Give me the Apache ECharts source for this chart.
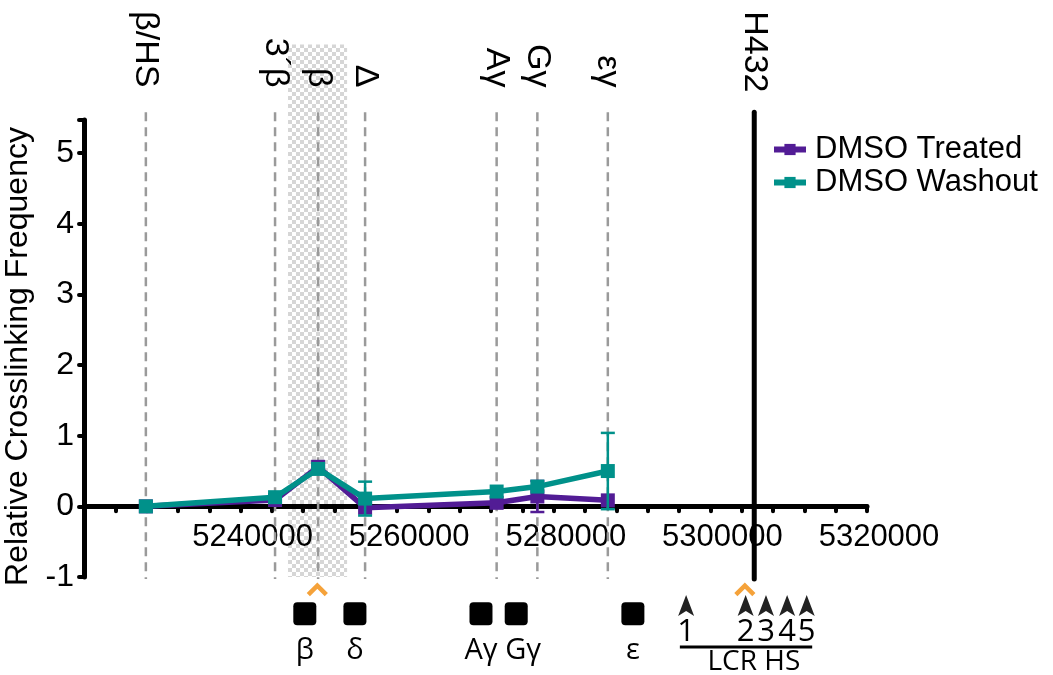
<!DOCTYPE html>
<html>
<head>
<meta charset="utf-8">
<script src="https://cdn.jsdelivr.net/npm/echarts@6/dist/echarts.min.js"></script>
<style>html,body{margin:0;padding:0;background:#fff}#c{width:1053px;height:675px}</style>
</head>
<body>
<div id="c"></div>
<script>
// ---- data ----
const lociX = [5227900, 5244400, 5249900, 5255900, 5272700, 5277900, 5286900];
const lociLabels = ['β/HS', '3´β', 'β', 'Δ', 'Aγ', 'Gγ', 'εγ'];
const treated = [0, 0.09, 0.56, -0.02, 0.05, 0.14, 0.085];
const treatedErr = [0, 0, 0, 0, 0, 0.22, 0];
const washout = [0, 0.13, 0.53, 0.11, 0.21, 0.28, 0.50];
const washoutErr = [0, 0, 0, 0.24, 0, 0, 0.54];
const anchorX = 5305600;
const anchorLabel = 'H432';
const bandX = [5246050, 5253600];
const caretX = [5249800, 5304400];
const geneNames = ['β', 'δ', 'Aγ', 'Gγ', 'ε'];
const geneX = [5248200, 5254600, 5270700, 5275200, 5290100];
const hsNames = ['1', '2', '3', '4', '5'];
const hsX = [5296900, 5304500, 5307100, 5309800, 5312300];
const lcrSpan = [5296100, 5313000];
const lcrLabel = 'LCR HS';
const xMin = 5220000, xMax = 5320000, xStep = 20000;
const yTicks = [-1, 0, 1, 2, 3, 4, 5];
const seriesNames = ['DMSO Treated', 'DMSO Washout'];

// ---- styling ----
const PURPLE = '#521c95';
const TEAL = '#00918a';
const ORANGE = '#f5a23a';
const ARIAL = '"Liberation Sans", Arial, sans-serif';
const MYRIAD = '"Open Sans", "Noto Sans", sans-serif';
const geneLabelDx = [0, 0, 0, 7, 0];

const pat = document.createElement('canvas');
pat.width = 8; pat.height = 8;
const pc = pat.getContext('2d');
pc.fillStyle = '#ffffff'; pc.fillRect(0, 0, 8, 8);
pc.fillStyle = '#d6d6d6'; pc.fillRect(0, 0, 4, 4); pc.fillRect(4, 4, 4, 4);

const chart = echarts.init(document.getElementById('c'), null, {renderer: 'canvas'});

function errSeries(name, vals, errs, color, z) {
  return {
    type: 'custom', name: name + ' err', z: z, silent: true,
    data: lociX.map((x, i) => [x, vals[i], errs[i]]),
    renderItem: function (params, api) {
      const x = api.value(0), y = api.value(1), e = api.value(2);
      if (!e) return null;
      const t = api.coord([x, y + e]), b = api.coord([x, y - e]);
      const st = {stroke: color, lineWidth: 2.5};
      return {type: 'group', children: [
        {type: 'line', shape: {x1: t[0], y1: t[1], x2: b[0], y2: b[1]}, style: st},
        {type: 'line', shape: {x1: t[0] - 7, y1: t[1], x2: t[0] + 7, y2: t[1]}, style: st},
        {type: 'line', shape: {x1: b[0] - 7, y1: b[1], x2: b[0] + 7, y2: b[1]}, style: st}
      ]};
    }
  };
}

const option = {
  animation: false,
  backgroundColor: '#fff',
  grid: {left: 84, right: 186, top: 120, bottom: 98, containLabel: false, outerBoundsMode: 'none'},
  legend: {
    orient: 'vertical', left: 766, top: 128, itemWidth: 32, itemHeight: 14, itemGap: 0,
    data: seriesNames,
    lineStyle: {width: 6},
    textStyle: {fontSize: 31, fontFamily: ARIAL, color: '#000', lineHeight: 33, padding: [0, 0, 0, 4]}
  },
  xAxis: {
    type: 'value', min: xMin, max: xMax, interval: xStep,
    axisLine: {onZero: true, lineStyle: {color: '#000', width: 5}},
    axisTick: {show: true, length: 5, lineStyle: {color: '#000', width: 4, cap: 'round'}},
    minorTick: {show: true, splitNumber: 5, length: 5, lineStyle: {color: '#000', width: 4, cap: 'round'}},
    splitLine: {show: false},
    axisLabel: {
      fontSize: 31, fontFamily: ARIAL, color: '#000', margin: -55, padding: [0, 0, 0, 24],
      formatter: v => (v === xMin ? '' : String(v))
    }
  },
  yAxis: {
    type: 'value', min: yTicks[0], max: 5.47, interval: 1,
    name: 'Relative Crosslinking Frequency', nameLocation: 'middle', nameGap: 46,
    nameTextStyle: {fontSize: 32, fontFamily: ARIAL, color: '#000', padding: [0, 16, 0, 0]},
    axisLine: {onZero: false, lineStyle: {color: '#000', width: 5}},
    axisTick: {show: true, length: 5, lineStyle: {color: '#000', width: 4, cap: 'round'}},
    splitLine: {show: false},
    axisLabel: {
      fontSize: 32, fontFamily: ARIAL, color: '#000', margin: 10,
      formatter: v => (yTicks.indexOf(v) >= 0 ? String(v) : '')
    }
  },
  series: [
    {
      type: 'custom', name: 'band', z: 0, silent: true,
      data: [[bandX[0], bandX[1]]],
      renderItem: function (params, api) {
        const a = api.coord([api.value(0), 6.54]), b = api.coord([api.value(1), -1.0]);
        return {type: 'rect', shape: {x: a[0], y: a[1], width: b[0] - a[0], height: b[1] - a[1]},
                style: {fill: {image: pat, repeat: 'repeat'}}};
      }
    },
    {
      type: 'custom', name: 'loci', z: 1, silent: true,
      data: lociX.map((x, i) => [x, i]),
      renderItem: function (params, api) {
        const x = api.value(0), i = api.value(1);
        const top = api.coord([x, 5.58]), bot = api.coord([x, -1.03]), lab = api.coord([x, 5.93]);
        return {type: 'group', children: [
          {type: 'line', shape: {x1: top[0], y1: top[1], x2: bot[0], y2: bot[1]},
           style: {stroke: '#9a9a9a', lineWidth: 2.5, lineDash: [9, 6]}},
          {type: 'text', x: lab[0], y: lab[1], rotation: -Math.PI / 2,
           style: {text: lociLabels[i], align: 'right', verticalAlign: 'middle',
                   fontSize: 34, fontFamily: ARIAL, fill: '#000'}}
        ]};
      }
    },
    {
      type: 'custom', name: 'anchor', z: 2, silent: true,
      data: [[anchorX]],
      renderItem: function (params, api) {
        const x = api.value(0);
        const top = api.coord([x, 5.58]), bot = api.coord([x, -1.03]), lab = api.coord([x, 5.86]);
        return {type: 'group', children: [
          {type: 'line', shape: {x1: top[0], y1: top[1], x2: bot[0], y2: bot[1]},
           style: {stroke: '#000', lineWidth: 5, lineCap: 'round'}},
          {type: 'text', x: lab[0], y: lab[1], rotation: -Math.PI / 2,
           style: {text: anchorLabel, align: 'right', verticalAlign: 'middle',
                   fontSize: 34, fontFamily: ARIAL, fill: '#000'}}
        ]};
      }
    },
    {
      type: 'custom', name: 'annot', z: 2, silent: true,
      data: [[xMin]],
      renderItem: function (params, api) {
        const ch = [];
        caretX.forEach(x => {
          const p = api.coord([x, -1.18]);
          ch.push({type: 'polyline', shape: {points: [[p[0] - 9, p[1] + 5], [p[0], p[1] - 4], [p[0] + 9, p[1] + 5]]},
                   style: {stroke: ORANGE, lineWidth: 4.5, fill: null}});
        });
        geneX.forEach((x, i) => {
          const p = api.coord([x, -1.52]);
          ch.push({type: 'rect', shape: {x: p[0] - 11.5, y: p[1] - 11.5, width: 23, height: 23, r: 4},
                   style: {fill: '#000'}});
          const q = api.coord([x, -2.04]);
          ch.push({type: 'text', x: q[0] + geneLabelDx[i], y: q[1],
                   style: {text: geneNames[i], align: 'center', verticalAlign: 'middle',
                           fontSize: 29, fontFamily: MYRIAD, fill: '#000'}});
        });
        hsX.forEach((x, i) => {
          const p = api.coord([x, -1.41]);
          ch.push({type: 'path', shape: {pathData: 'M0,-11 L8,10 L0,5 L-8,10 Z'}, x: p[0], y: p[1],
                   style: {fill: '#222'}});
          const q = api.coord([x, -1.78]);
          ch.push({type: 'text', x: q[0], y: q[1],
                   style: {text: hsNames[i], align: 'center', verticalAlign: 'middle',
                           fontSize: 31, fontFamily: MYRIAD, fill: '#000'}});
        });
        const a = api.coord([lcrSpan[0], -1.99]), b = api.coord([lcrSpan[1], -1.99]);
        ch.push({type: 'line', shape: {x1: a[0], y1: a[1], x2: b[0], y2: b[1]}, style: {stroke: '#000', lineWidth: 3}});
        const m = api.coord([(lcrSpan[0] + lcrSpan[1]) / 2 + 1000, -2.2]);
        ch.push({type: 'text', x: m[0], y: m[1],
                 style: {text: lcrLabel, align: 'center', verticalAlign: 'middle',
                         fontSize: 28, fontFamily: MYRIAD, fill: '#000'}});
        return {type: 'group', children: ch};
      }
    },
    errSeries(seriesNames[0], treated, treatedErr, PURPLE, 3),
    {
      type: 'line', name: seriesNames[0], z: 4,
      data: lociX.map((x, i) => [x, treated[i]]),
      symbol: 'rect', symbolSize: 14, showSymbol: true,
      itemStyle: {color: PURPLE}, lineStyle: {color: PURPLE, width: 5.5}
    },
    errSeries(seriesNames[1], washout, washoutErr, TEAL, 5),
    {
      type: 'line', name: seriesNames[1], z: 6,
      data: lociX.map((x, i) => [x, washout[i]]),
      symbol: 'rect', symbolSize: 14, showSymbol: true,
      itemStyle: {color: TEAL}, lineStyle: {color: TEAL, width: 5.5}
    }
  ]
};
chart.setOption(option);
</script>
</body>
</html>
